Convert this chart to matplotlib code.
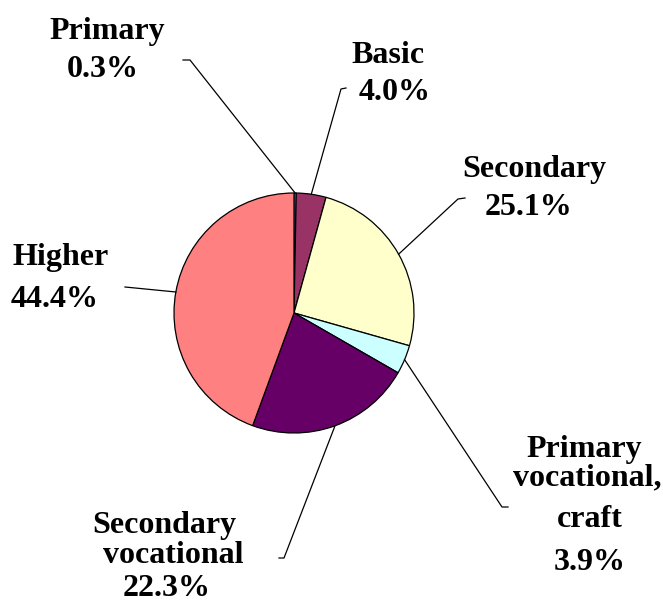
import numpy as np
import matplotlib.pyplot as plt

# data
labels = ['Primary', 'Basic', 'Secondary', 'Primary\nvocational,\ncraft',
          'Secondary\nvocational', 'Higher']
values = [0.3, 4.0, 25.1, 3.9, 22.3, 44.4]
colors = ['#9999FF', '#993366', '#FFFFCC', '#CCFFFF', '#660066', '#FF8080']

W, H = 663, 602
plt.rcParams['font.family'] = ['Liberation Serif', 'DejaVu Serif']


def px(x, y):
    # image pixel coords (y down) -> axes data coords (y up)
    return x, H - y


fig = plt.figure(figsize=(W / 100, H / 100), dpi=100)
ax = fig.add_axes([0, 0, 1, 1])

cx, cy = px(294, 313)
r = 120
wedges, _ = ax.pie(values, colors=colors, startangle=90, counterclock=False,
                   center=(cx, cy), radius=r,
                   wedgeprops=dict(edgecolor='black', linewidth=0.9))
ax.set_xlim(0, W)
ax.set_ylim(0, H)
ax.set_aspect('equal')
ax.axis('off')

# label lines: (center x, baseline y) per line, in image pixels
line_pos = [
    [(107, 39), (103, 77)],
    [(388, 63), (395, 100)],
    [(534, 177), (528, 215)],
    [(584, 457), (587, 485), (590, 527), (590, 570)],
    [(164, 533), (173, 563), (167, 596)],
    [(61, 265), (55, 307)],
]
# leader line end: (elbow point, tick end) in image pixels
leaders = [
    ((190, 60), (183, 60)),
    ((341, 89), (346, 88)),
    ((458, 199), (465, 198)),
    ((502, 507), (508, 507)),
    ((284, 558), (279, 558)),
    ((125, 287), (125, 287)),
]

for w, lab, val, pos, (elbow, tick) in zip(wedges, labels, values, line_pos, leaders):
    lines = lab.split('\n') + ['%.1f%%' % val]
    for txt, (x, y) in zip(lines, pos):
        tx, ty = px(x, y)
        ax.text(tx, ty, txt, ha='center', va='baseline', fontsize=23,
                fontweight='bold', color='black')
    mid = np.deg2rad((w.theta1 + w.theta2) / 2)
    sx, sy = cx + r * np.cos(mid), cy + r * np.sin(mid)
    ex, ey = px(*elbow)
    kx, ky = px(*tick)
    ax.plot([sx, ex, kx], [sy, ey, ky], color='black', lw=0.9)

plt.savefig('out.png', dpi=100)
